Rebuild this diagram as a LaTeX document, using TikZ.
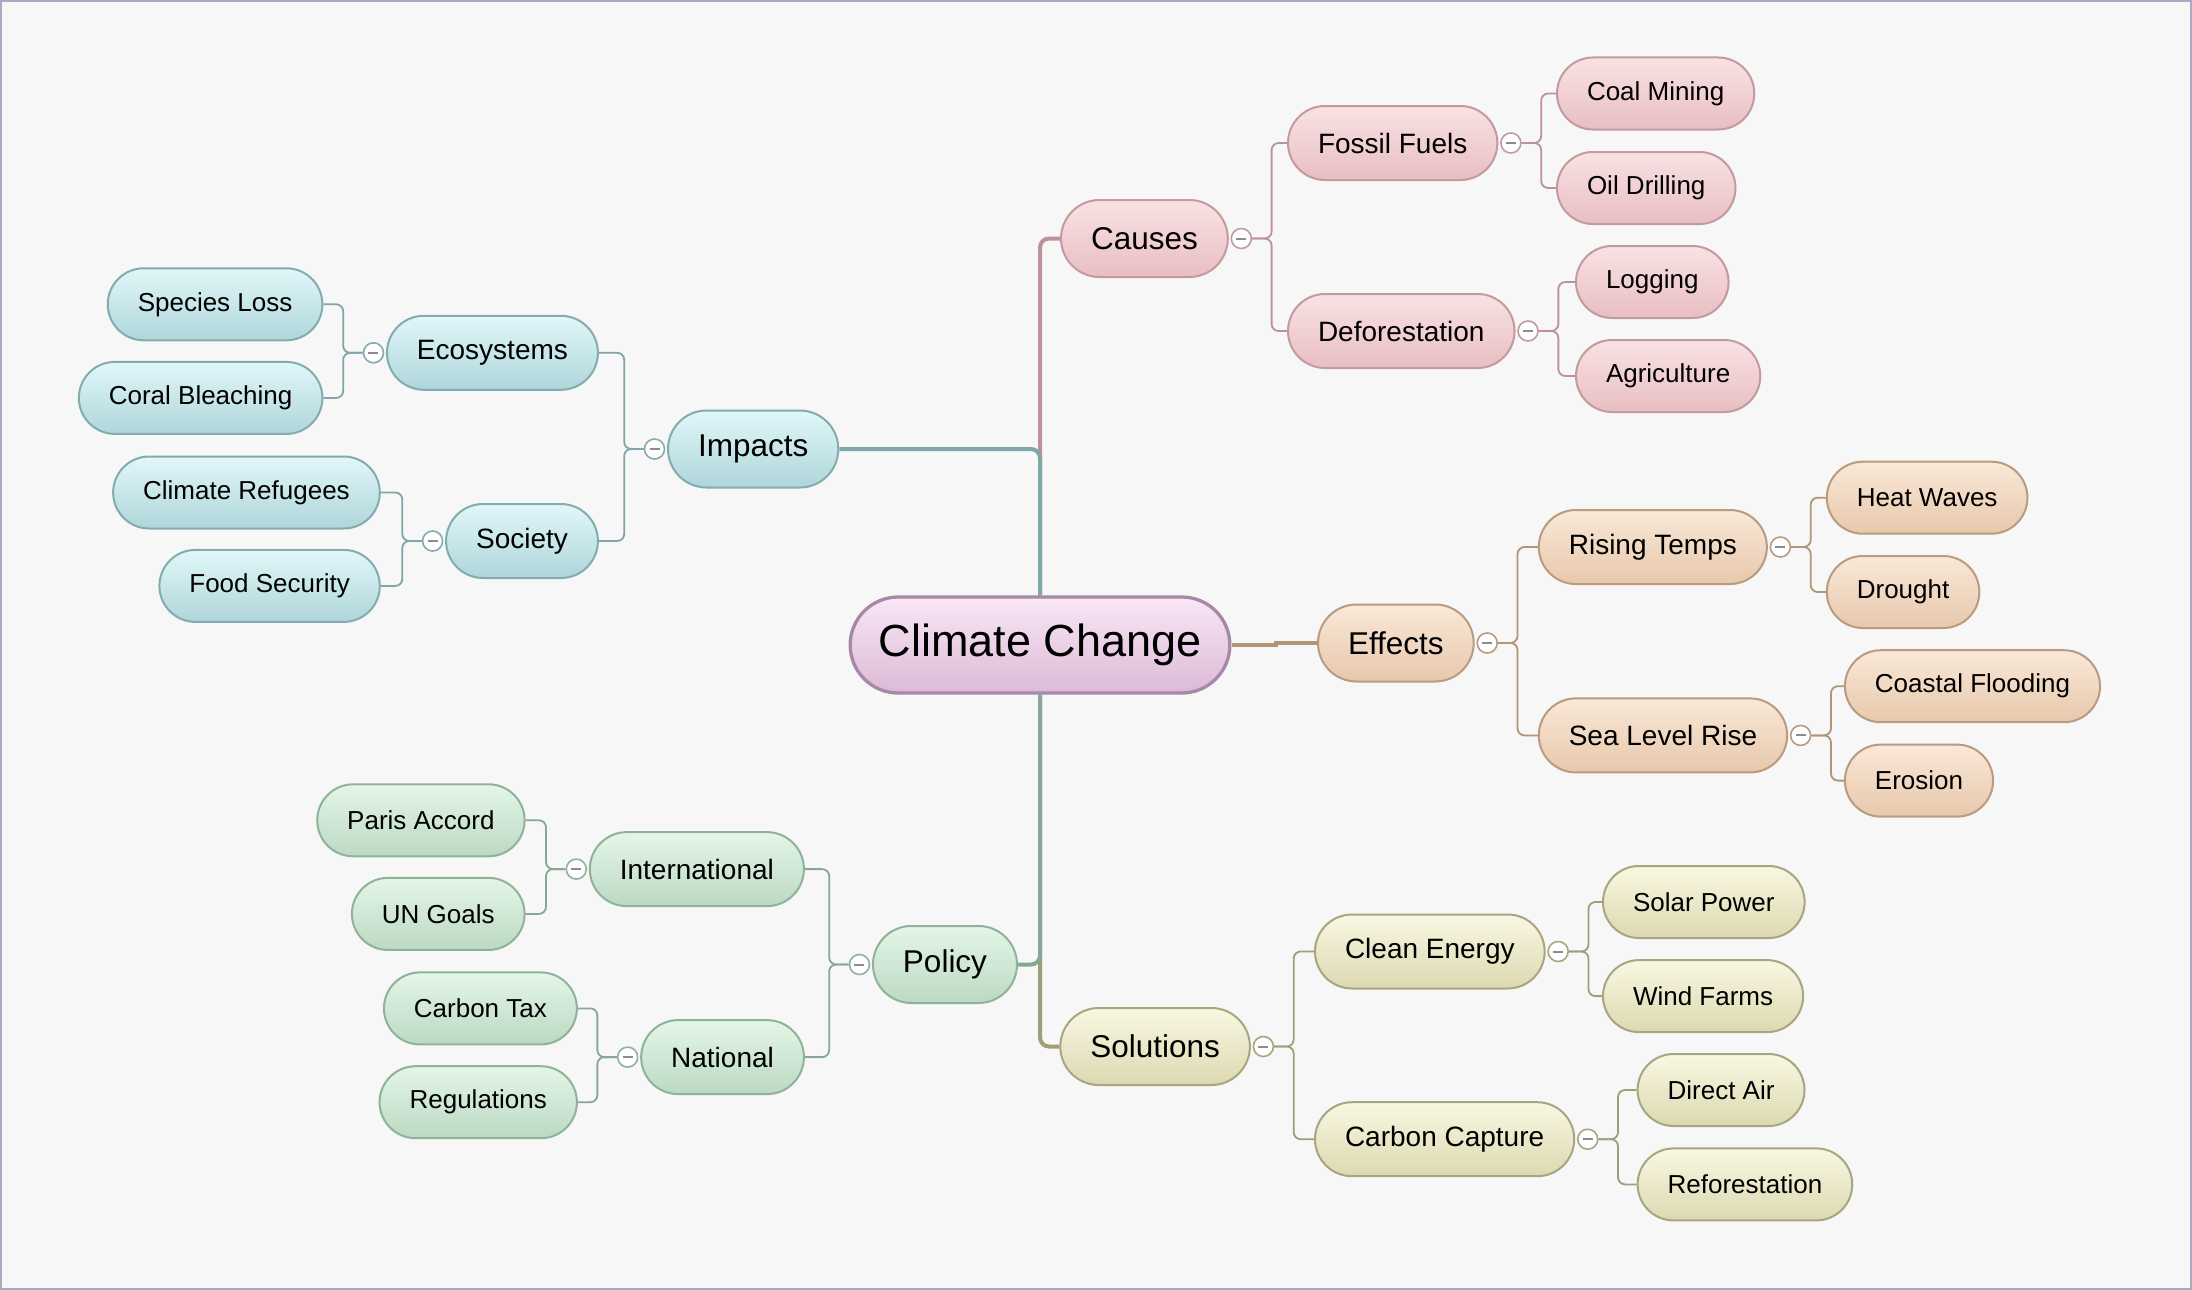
\documentclass[tikz,border=0pt]{standalone}
\usepackage{fontspec}
\setmainfont{Liberation Sans}
\usetikzlibrary{calc,backgrounds}
\definecolor{bgc}{HTML}{F7F7F7}
\definecolor{framec}{HTML}{A9A9C0}
\definecolor{minusc}{HTML}{8C8C8C}
% center
\definecolor{ccT}{HTML}{F9E7F7}
\definecolor{ccB}{HTML}{DBBAD6}
\definecolor{ccD}{HTML}{A888A6}
% pink
\definecolor{pkT}{HTML}{F9E2E4}
\definecolor{pkB}{HTML}{E8BEC2}
\definecolor{pkD}{HTML}{C39A9E}
\definecolor{pkL}{HTML}{BD9296}
% teal
\definecolor{tlT}{HTML}{E1F7F9}
\definecolor{tlB}{HTML}{AFD6DA}
\definecolor{tlD}{HTML}{82ACB0}
\definecolor{tlL}{HTML}{7FA7A9}
% tan
\definecolor{tnT}{HTML}{FAE8D8}
\definecolor{tnB}{HTML}{E7C8AC}
\definecolor{tnD}{HTML}{B99B7F}
\definecolor{tnL}{HTML}{B09676}
% olive
\definecolor{olT}{HTML}{F9F7E2}
\definecolor{olB}{HTML}{DCD9B1}
\definecolor{olD}{HTML}{A8A680}
\definecolor{olL}{HTML}{A09D78}
% green
\definecolor{grT}{HTML}{E4F6E7}
\definecolor{grB}{HTML}{BCD9C3}
\definecolor{grD}{HTML}{8FB29B}
\definecolor{grL}{HTML}{86A892}
\newcommand{\mysgn}{\textcolor{minusc}{\rule[-1pt]{10pt}{2pt}}}
\tikzset{
  anybox/.style={draw, line width=2pt, inner xsep=30pt, inner ysep=0pt, text=black},
  leafbox/.style={anybox, minimum height=72pt, rounded corners=36pt, font=\fontsize{26}{30}\selectfont},
  subbox/.style={anybox, minimum height=74pt, rounded corners=37pt, font=\fontsize{28}{32}\selectfont},
  mainbox/.style={anybox, minimum height=77pt, rounded corners=38.5pt, font=\fontsize{31.5}{36}\selectfont},
  centerbox/.style={anybox, line width=3.3pt, inner xsep=28.5pt, minimum height=96pt, rounded corners=48pt, font=\fontsize{45}{52}\selectfont},
  ccN/.style={top color=ccT, bottom color=ccB, draw=ccD},
  pkN/.style={top color=pkT, bottom color=pkB, draw=pkD},
  tlN/.style={top color=tlT, bottom color=tlB, draw=tlD},
  tnN/.style={top color=tnT, bottom color=tnB, draw=tnD},
  olN/.style={top color=olT, bottom color=olB, draw=olD},
  grN/.style={top color=grT, bottom color=grB, draw=grD},
  btn/.style={circle, draw, fill=white, line width=1.6pt, minimum size=20pt, inner sep=0pt},
  conn/.style={line width=1.8pt, rounded corners=7pt},
  trunk/.style={line width=4pt, rounded corners=9pt},
  rt/.style={anchor=west},
  lt/.style={anchor=east}
}
\begin{document}
\begin{tikzpicture}[x=1pt,y=-1pt]
\begin{pgfonlayer}{background}
\fill[bgc] (0,0) rectangle (2192,1290);
\draw[framec, line width=2pt] (1,1) rectangle (2191,1289);
\end{pgfonlayer}
\useasboundingbox (0,0) rectangle (2192,1290);

% center
\node[centerbox, ccN] (cc) at (1040,645) {Climate Change};

% ===== Causes =====
\node[mainbox, pkN, rt] (causes) at (1060,238.5) {Causes};
\node[subbox, pkN, rt] (fossil) at (1287,143) {Fossil Fuels};
\node[leafbox, pkN, rt] (coal) at (1556,93.5) {Coal Mining};
\node[leafbox, pkN, rt] (oil) at (1556,188) {Oil Drilling};
\node[subbox, pkN, rt] (defor) at (1287,331) {Deforestation};
\node[leafbox, pkN, rt] (logging) at (1575,282) {Logging};
\node[leafbox, pkN, rt] (agri) at (1575,376) {Agriculture};

% ===== Effects =====
\node[mainbox, tnN, rt] (effects) at (1317,643) {Effects};
\node[subbox, tnN, rt] (rising) at (1537.8,547) {Rising Temps};
\node[leafbox, tnN, rt] (heat) at (1825.8,497.7) {Heat Waves};
\node[leafbox, tnN, rt] (drought) at (1825.8,592) {Drought};
\node[subbox, tnN, rt] (sea) at (1537.8,735.4) {Sea Level Rise};
\node[leafbox, tnN, rt] (coastal) at (1843.9,686.2) {Coastal Flooding};
\node[leafbox, tnN, rt] (erosion) at (1843.9,780.6) {Erosion};

% ===== Solutions =====
\node[mainbox, olN, rt] (solutions) at (1059.3,1046.5) {Solutions};
\node[subbox, olN, rt] (clean) at (1314,951.5) {Clean Energy};
\node[leafbox, olN, rt] (solar) at (1602,902) {Solar Power};
\node[leafbox, olN, rt] (wind) at (1602,996.1) {Wind Farms};
\node[subbox, olN, rt] (capture) at (1314,1139.2) {Carbon Capture};
\node[leafbox, olN, rt] (direct) at (1636.6,1090) {Direct Air};
\node[leafbox, olN, rt] (refor) at (1636.6,1184.4) {Reforestation};

% ===== Impacts =====
\node[mainbox, tlN, lt] (impacts) at (839.3,449) {Impacts};
\node[subbox, tlN, lt] (eco) at (598.9,352.8) {Ecosystems};
\node[leafbox, tlN, lt] (species) at (323.4,304.3) {Species Loss};
\node[leafbox, tlN, lt] (coral) at (323.4,397.9) {Coral Bleaching};
\node[subbox, tlN, lt] (society) at (598.9,541) {Society};
\node[leafbox, tlN, lt] (refugees) at (380.8,492.5) {Climate Refugees};
\node[leafbox, tlN, lt] (food) at (380.8,585.9) {Food Security};

% ===== Policy =====
\node[mainbox, grN, lt] (policy) at (1018,964.5) {Policy};
\node[subbox, grN, lt] (intl) at (804.9,869.1) {International};
\node[leafbox, grN, lt] (paris) at (525.6,820.3) {Paris Accord};
\node[leafbox, grN, lt] (un) at (525.6,913.9) {UN Goals};
\node[subbox, grN, lt] (national) at (804.9,1057.1) {National};
\node[leafbox, grN, lt] (tax) at (577.9,1008.4) {Carbon Tax};
\node[leafbox, grN, lt] (regs) at (577.9,1102.2) {Regulations};

% ===== collapse buttons =====
\node[btn, draw=pkD] (bcauses) at ($(causes.east)+(12.5,0)$) {\mysgn};
\node[btn, draw=pkD] (bfossil) at ($(fossil.east)+(12.5,0)$) {\mysgn};
\node[btn, draw=pkD] (bdefor) at ($(defor.east)+(12.5,0)$) {\mysgn};
\node[btn, draw=tnD] (beffects) at ($(effects.east)+(12.5,0)$) {\mysgn};
\node[btn, draw=tnD] (brising) at ($(rising.east)+(12.5,0)$) {\mysgn};
\node[btn, draw=tnD] (bsea) at ($(sea.east)+(12.5,0)$) {\mysgn};
\node[btn, draw=olD] (bsolutions) at ($(solutions.east)+(12.5,0)$) {\mysgn};
\node[btn, draw=olD] (bclean) at ($(clean.east)+(12.5,0)$) {\mysgn};
\node[btn, draw=olD] (bcapture) at ($(capture.east)+(12.5,0)$) {\mysgn};
\node[btn, draw=tlD] (bimpacts) at ($(impacts.west)+(-12.5,0)$) {\mysgn};
\node[btn, draw=tlD] (beco) at ($(eco.west)+(-12.5,0)$) {\mysgn};
\node[btn, draw=tlD] (bsociety) at ($(society.west)+(-12.5,0)$) {\mysgn};
\node[btn, draw=grD] (bpolicy) at ($(policy.west)+(-12.5,0)$) {\mysgn};
\node[btn, draw=grD] (bintl) at ($(intl.west)+(-12.5,0)$) {\mysgn};
\node[btn, draw=grD] (bnational) at ($(national.west)+(-12.5,0)$) {\mysgn};

\begin{pgfonlayer}{background}
% trunk lines
\draw[trunk, pkL] (cc.north) |- (causes.west);
\draw[trunk, tlL] (cc.north) |- (impacts.east);
\draw[trunk, olL] (cc.south) |- (solutions.west);
\draw[trunk, grL] (cc.south) |- (policy.east);
\draw[trunk, tnL, sharp corners] (cc.east) -- ++(44,0) |- (effects.west);

% causes
\draw[conn, pkL] (bcauses.east) -- ++(19.5,0) |- (fossil.west);
\draw[conn, pkL] (bcauses.east) -- ++(19.5,0) |- (defor.west);
\draw[conn, pkL] (bfossil.east) -- ++(19.5,0) |- (coal.west);
\draw[conn, pkL] (bfossil.east) -- ++(19.5,0) |- (oil.west);
\draw[conn, pkL] (bdefor.east) -- ++(19.5,0) |- (logging.west);
\draw[conn, pkL] (bdefor.east) -- ++(19.5,0) |- (agri.west);
% effects
\draw[conn, tnL] (beffects.east) -- ++(19.5,0) |- (rising.west);
\draw[conn, tnL] (beffects.east) -- ++(19.5,0) |- (sea.west);
\draw[conn, tnL] (brising.east) -- ++(19.5,0) |- (heat.west);
\draw[conn, tnL] (brising.east) -- ++(19.5,0) |- (drought.west);
\draw[conn, tnL] (bsea.east) -- ++(19.5,0) |- (coastal.west);
\draw[conn, tnL] (bsea.east) -- ++(19.5,0) |- (erosion.west);
% solutions
\draw[conn, olL] (bsolutions.east) -- ++(19.5,0) |- (clean.west);
\draw[conn, olL] (bsolutions.east) -- ++(19.5,0) |- (capture.west);
\draw[conn, olL] (bclean.east) -- ++(19.5,0) |- (solar.west);
\draw[conn, olL] (bclean.east) -- ++(19.5,0) |- (wind.west);
\draw[conn, olL] (bcapture.east) -- ++(19.5,0) |- (direct.west);
\draw[conn, olL] (bcapture.east) -- ++(19.5,0) |- (refor.west);
% impacts
\draw[conn, tlL] (bimpacts.west) -- ++(-19.5,0) |- (eco.east);
\draw[conn, tlL] (bimpacts.west) -- ++(-19.5,0) |- (society.east);
\draw[conn, tlL] (beco.west) -- ++(-19.5,0) |- (species.east);
\draw[conn, tlL] (beco.west) -- ++(-19.5,0) |- (coral.east);
\draw[conn, tlL] (bsociety.west) -- ++(-19.5,0) |- (refugees.east);
\draw[conn, tlL] (bsociety.west) -- ++(-19.5,0) |- (food.east);
% policy
\draw[conn, grL] (bpolicy.west) -- ++(-19.5,0) |- (intl.east);
\draw[conn, grL] (bpolicy.west) -- ++(-19.5,0) |- (national.east);
\draw[conn, grL] (bintl.west) -- ++(-19.5,0) |- (paris.east);
\draw[conn, grL] (bintl.west) -- ++(-19.5,0) |- (un.east);
\draw[conn, grL] (bnational.west) -- ++(-19.5,0) |- (tax.east);
\draw[conn, grL] (bnational.west) -- ++(-19.5,0) |- (regs.east);
\end{pgfonlayer}
\end{tikzpicture}
\end{document}
